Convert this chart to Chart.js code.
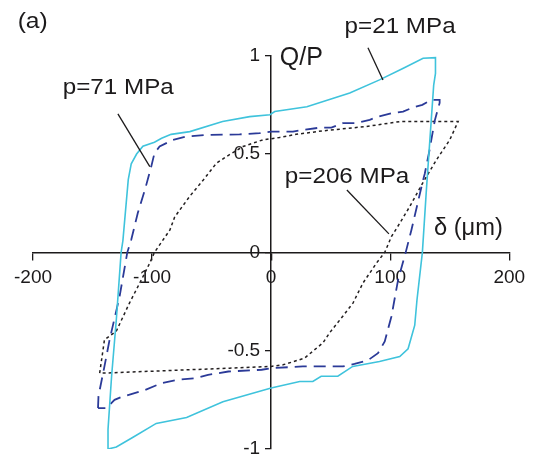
<!DOCTYPE html>
<html>
<head>
<meta charset="utf-8">
<script src="https://cdn.jsdelivr.net/npm/chart.js@4/dist/chart.umd.min.js"></script>
<style>
  html, body { margin: 0; padding: 0; background: #ffffff; }
  #c { display: block; }
</style>
</head>
<body>
<canvas id="c" width="534" height="458"></canvas>
<script>
// ---- data ----
const xTicks = [-200, -100, 0, 100, 200];
const xTickLabels = ['-200', '-100', '0', '100', '200'];
const yTicks = [-1, -0.5, 0, 0.5, 1];
const yTickLabels = ['-1', '-0.5', '0', '0.5', '1'];

// p = 21 MPa (cyan, solid)
const p21X = [-137, -137, -134, -130, -126, -124.5, -120, -117.5, -113, -107.7, -98, -92, -84, -68.3, -40.8, -18, -1, 3, 30, 66, 91, 111, 127.6, 138, 138, 136.5, 130.4, 127, 122.5, 120.6, 117.8, 115, 108, 91, 68.5, 56, 42, 35, 24, 0, -40.5, -71, -96.5, -116, -130, -137];
const p21Y = [-1.0, -0.9, -0.63, -0.34, 0, 0.06, 0.37, 0.45, 0.50, 0.54, 0.56, 0.58, 0.60, 0.614, 0.665, 0.69, 0.70, 0.716, 0.74, 0.81, 0.877, 0.936, 0.987, 0.99, 0.91, 0.85, 0.32, 0, -0.24, -0.37, -0.43, -0.49, -0.53, -0.555, -0.58, -0.63, -0.63, -0.657, -0.657, -0.69, -0.76, -0.84, -0.87, -0.94, -0.99, -1.0];

// p = 71 MPa (navy, dashed)
const p71X = [-145.4, -145, -140, -135.7, -127.3, -120.8, -117.5, -112, -106, -100.7, -98, -93.7, -82.5, -71.3, -54.5, -26.5, -9.7, 0, 18.3, 26.7, 40.8, 50.6, 60.3, 71.6, 82.8, 89.8, 101, 110.8, 120.6, 127, 134.5, 141.5, 141.5, 137.4, 133, 129, 127.6, 117.8, 113, 106.6, 101, 95.4, 89.7, 81, 70, 60.3, 26.7, 0, -8, -36, -53, -64, -78, -92, -106, -114.7, -126, -131.5, -138.5, -145.4];
const p71Y = [-0.792, -0.73, -0.58, -0.445, -0.225, 0, 0.064, 0.2, 0.318, 0.436, 0.504, 0.538, 0.572, 0.589, 0.597, 0.60, 0.606, 0.614, 0.614, 0.623, 0.634, 0.634, 0.657, 0.657, 0.674, 0.69, 0.707, 0.716, 0.74, 0.75, 0.775, 0.775, 0.76, 0.67, 0.52, 0.40, 0.368, 0.114, 0, -0.14, -0.326, -0.453, -0.513, -0.55, -0.567, -0.58, -0.58, -0.589, -0.597, -0.606, -0.623, -0.64, -0.648, -0.665, -0.70, -0.716, -0.736, -0.75, -0.792, -0.792];

// p = 206 MPa (black, dotted)
const p206X = [-144, -140, -130, -119, -109, -102, -98, -85, -81, -68.5, -57, -46, -37.6, -23.7, -7, 7, 21, 43.5, 80, 108, 157, 150, 138.8, 127, 116.4, 108, 101, 95.4, 88.4, 77, 68.7, 60, 49, 43.5, 28, 10, 0, -35, -141, -144];
const p206Y = [-0.614, -0.445, -0.40, -0.258, -0.14, -0.055, 0, 0.114, 0.18, 0.284, 0.368, 0.453, 0.487, 0.538, 0.572, 0.584, 0.60, 0.618, 0.64, 0.665, 0.665, 0.572, 0.47, 0.35, 0.233, 0.148, 0.08, 0, -0.055, -0.157, -0.258, -0.326, -0.41, -0.46, -0.538, -0.572, -0.58, -0.589, -0.614, -0.614];

// annotation texts
const labelTexts = ['(a)', 'p=21 MPa', 'p=71 MPa', 'p=206 MPa', 'Q/P', 'δ (μm)'];

const toPts = (xs, ys) => xs.map((x, i) => ({x: x, y: ys[i]}));

// ---- annotation plugin (positions in data coordinates) ----
const annot = {
  id: 'annot',
  afterDatasetsDraw(chart) {
    const ctx = chart.ctx;
    const sx = chart.scales.x, sy = chart.scales.y;
    const P = (x, y) => [sx.getPixelForValue(x), sy.getPixelForValue(y)];
    const texts = [
      {t: labelTexts[0], x: -212.9, y: 1.139, size: 22, stretch: 1.12},
      {t: labelTexts[1], x: 61.7, y: 1.115, size: 22, stretch: 1.1},
      {t: labelTexts[2], x: -175, y: 0.804, size: 22, stretch: 1.1},
      {t: labelTexts[3], x: 11.5, y: 0.351, size: 22, stretch: 1.1},
      {t: labelTexts[4], x: 7.3, y: 0.953, size: 25, stretch: 1.0},
      {t: labelTexts[5], x: 136.7, y: 0.088, size: 23, stretch: 1.03}
    ];
    ctx.save();
    ctx.fillStyle = '#1c1a1b';
    ctx.textBaseline = 'alphabetic';
    ctx.textAlign = 'left';
    texts.forEach(o => {
      const [px, py] = P(o.x, o.y);
      ctx.save();
      ctx.translate(px, py);
      ctx.scale(o.stretch, 1);
      ctx.font = o.size + 'px "Liberation Sans", Arial, sans-serif';
      ctx.fillText(o.t, 0, 0);
      ctx.restore();
    });
    const lines = [
      [81.3, 1.04, 93.9, 0.876],
      [-128.7, 0.704, -101.9, 0.436],
      [63.6, 0.317, 98.9, 0.094]
    ];
    ctx.strokeStyle = '#1c1a1b';
    ctx.lineWidth = 1.3;
    lines.forEach(l => {
      const [x1, y1] = P(l[0], l[1]);
      const [x2, y2] = P(l[2], l[3]);
      ctx.beginPath();
      ctx.moveTo(x1, y1);
      ctx.lineTo(x2, y2);
      ctx.stroke();
    });
    ctx.restore();
  }
};

const tickFont = {family: '"Liberation Sans", Arial, sans-serif', size: 19};
const noPad = s => { s.paddingTop = 0; s.paddingBottom = 0; s.paddingLeft = 0; s.paddingRight = 0; };

new Chart(document.getElementById('c'), {
  type: 'scatter',
  data: {
    datasets: [
      {label: 'p=21 MPa', data: toPts(p21X, p21Y), showLine: true, borderColor: '#3fc3dc', borderWidth: 1.6, pointRadius: 0, tension: 0, fill: false},
      {label: 'p=71 MPa', data: toPts(p71X, p71Y), showLine: true, borderColor: '#2b3a98', borderWidth: 1.8, borderDash: [12, 7], pointRadius: 0, tension: 0, fill: false},
      {label: 'p=206 MPa', data: toPts(p206X, p206Y), showLine: true, borderColor: '#231f20', borderWidth: 1.5, borderDash: [3, 3], pointRadius: 0, tension: 0, fill: false}
    ]
  },
  options: {
    responsive: false,
    animation: false,
    devicePixelRatio: 1,
    layout: {padding: {left: 33, right: 24.7, top: 55.7, bottom: 9}},
    plugins: {legend: {display: false}, tooltip: {enabled: false}},
    scales: {
      x: {
        type: 'linear', min: -200, max: 200, position: {y: 0},
        afterBuildTicks: s => { s.ticks = xTicks.map(v => ({value: v})); },
        afterFit: noPad,
        grid: {drawOnChartArea: false, drawTicks: true, tickLength: 7, color: '#1c1a1b', lineWidth: 1.3},
        border: {display: true, color: '#1c1a1b', width: 1.5},
        ticks: {font: tickFont, color: '#1c1a1b', padding: 7, maxRotation: 0, autoSkip: false,
          callback: (v) => xTickLabels[xTicks.indexOf(v)]}
      },
      y: {
        type: 'linear', min: -1, max: 1, position: 'center',
        afterBuildTicks: s => { s.ticks = yTicks.map(v => ({value: v})); },
        afterFit: noPad,
        grid: {drawOnChartArea: false, drawTicks: true, tickLength: 5, color: '#1c1a1b', lineWidth: 1.3},
        border: {display: true, color: '#1c1a1b', width: 1.5},
        ticks: {font: tickFont, color: '#1c1a1b', padding: 6, autoSkip: false,
          callback: (v) => yTickLabels[yTicks.indexOf(v)]}
      }
    }
  },
  plugins: [annot]
});
</script>
</body>
</html>
